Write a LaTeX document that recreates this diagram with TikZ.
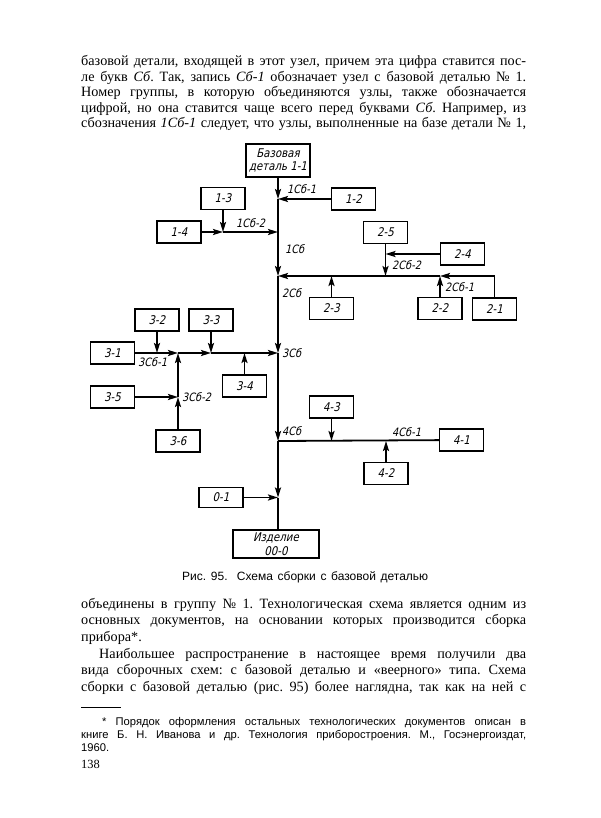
\documentclass[tikz,border=0pt]{standalone}
\usepackage{fontspec}
\setmainfont{Liberation Serif}
\newfontfamily\capfont{Liberation Sans}
\newfontfamily\draftfont[FakeSlant=0.22,FakeStretch=0.85]{DejaVu Sans}
\usetikzlibrary{arrows.meta}
\frenchspacing
\begin{document}
\begin{tikzpicture}[x=1pt,y=-1pt,
  box/.style={draw, line width=1.2pt, minimum width=44pt, minimum height=22pt, inner sep=0pt,
    font=\draftfont\fontsize{12}{13}\selectfont},
  lbl/.style={inner sep=0pt, anchor=west, font=\draftfont\fontsize{11.5}{13}\selectfont},
  ln/.style={line width=1.8pt},
  ar/.style={line width=1.8pt, -{Stealth[length=10pt,width=6pt,inset=2pt]}},
  body/.style={inner sep=0pt, anchor=base west, font=\fontsize{14.2}{16}\selectfont},
  foot/.style={inner sep=0pt, anchor=base west, font=\capfont\fontsize{11.2}{12}\selectfont},
]
\useasboundingbox[fill=white] (0,0) rectangle (600,818);

% ---------- text above ----------
\node[body] (t1) at (81,66) {\makebox[445pt][s]{базовой детали, входящей в этот узел, причем эта цифра ставится пос-}};
\node[body] (t2) at (81,81.5) {\makebox[445pt][s]{ле букв \textit{Сб}. Так, запись \textit{Сб-1} обозначает узел с базовой деталью №~1.}};
\node[body] (t3) at (81,97) {\makebox[445pt][s]{Номер группы, в которую объединяются узлы, также обозначается}};
\node[body] (t4) at (81,112.5) {\makebox[445pt][s]{цифрой, но она ставится чаще всего перед буквами \textit{Сб}. Например, из}};
\node[body] (t5) at (81,128) {\makebox[445pt][s]{сбозначения \textit{1Сб-1} следует, что узлы, выполненные на базе детали №~1,}};

% ---------- boxes ----------
\node[box, minimum width=64pt, minimum height=33pt, align=center, font=\draftfont\fontsize{12}{13.5}\selectfont] (base) at (278,160.5) {Базовая\\деталь 1-1};
\node[box] (b13) at (223,198.5) {1-3};
\node[box] (b14) at (179,232) {1-4};
\node[box] (b12) at (353.5,199) {1-2};
\node[box] (b25) at (385.5,232.5) {2-5};
\node[box] (b24) at (462.5,254) {2-4};
\node[box] (b23) at (331.5,308.5) {2-3};
\node[box] (b22) at (440,308.5) {2-2};
\node[box] (b21) at (494.5,309) {2-1};
\node[box] (b31) at (112.5,353) {3-1};
\node[box] (b32) at (157,320) {3-2};
\node[box] (b33) at (211,320) {3-3};
\node[box] (b34) at (244.5,386) {3-4};
\node[box] (b35) at (112.5,397) {3-5};
\node[box] (b36) at (178,441) {3-6};
\node[box] (b43) at (331.5,407) {4-3};
\node[box] (b41) at (461.5,440) {4-1};
\node[box] (b42) at (386,473.5) {4-2};
\node[box, minimum height=20pt] (b01) at (221,497.5) {0-1};
\node[box, minimum width=86pt, minimum height=28pt, align=center, font=\draftfont\fontsize{12}{13.5}\selectfont] (prod) at (276,544) {Изделие\\00-0};

% ---------- junctions ----------
\coordinate (J1) at (278,199);
\coordinate (J2) at (278,232);
\coordinate (J3) at (278,276);
\coordinate (J4) at (278,353);
\coordinate (J5) at (278,441);
\coordinate (J6) at (278,497.5);
\coordinate (K1) at (223,232);
\coordinate (K22) at (440,276);
\coordinate (K23) at (385.5,276);
\coordinate (K24) at (331.5,276);
\coordinate (K25) at (385.5,254);
\coordinate (K31) at (178,353);
\coordinate (K32) at (178,397);
\coordinate (K33) at (211,353);
\coordinate (K34) at (157,353);
\coordinate (K35) at (244.5,353);
\coordinate (K41) at (331.5,441);
\coordinate (K42) at (386,441);

% ---------- trunk ----------
\draw[ar] (base) -- (J1);
\draw[ln] (J1) -- (J2);
\draw[ar] (J2) -- (J3);
\draw[ar] (J3) -- (J4);
\draw[ar] (J4) -- (J5);
\draw[ar] (J5) -- (J6);
\draw[ln] (J6) -- (J6 |- prod.north);

% group 1
\draw[ar] (b12) -- (J1);
\draw[ar] (b13) -- (K1);
\draw[ar] (b14) -- (K1);
\draw[ar] (K1) -- (J2);
% group 2
\draw[ar] (b21.north) |- (K22);
\draw[ar] (b22) -- (K22);
\draw[ln] (K22) -- (K23);
\draw[ar] (b25) -- (K23);
\draw[ar] (b24) -- (K25);
\draw[ar] (K23) -- (J3);
\draw[ar] (b23) -- (K24);
% group 3
\draw[ar] (b31) -- (K31);
\draw[ar] (b32) -- (K34);
\draw[ar] (b35) -- (K32);
\draw[ar] (b36) -- (K32);
\draw[ar] (K32) -- (K31);
\draw[ar] (K31) -- (K33);
\draw[ar] (b33) -- (K33);
\draw[ar] (K33) -- (J4);
\draw[ar] (b34) -- (K35);
% group 4
\draw[ln] (b41) -- (J5);
\draw[ar] (b43) -- (K41);
\draw[ar] (b42) -- (K42);
% 0-1
\draw[ar] (b01) -- (J6);

% ---------- labels ----------
\node[lbl] (l1a) at (287,189) {1Сб-1};
\node[lbl] (l1b) at (236,223) {1Сб-2};
\node[lbl] (l1) at (285,249) {1Сб};
\node[lbl] (l2b) at (392,265) {2Сб-2};
\node[lbl] (l2a) at (445,287) {2Сб-1};
\node[lbl] (l2) at (282,293) {2Сб};
\node[lbl] (l3a) at (138,362) {3Сб-1};
\node[lbl] (l3b) at (182,397) {3Сб-2};
\node[lbl] (l3) at (282,353) {3Сб};
\node[lbl] (l4) at (282,431) {4Сб};
\node[lbl] (l4a) at (392,432) {4Сб-1};

% ---------- caption ----------
\node[inner sep=0pt, anchor=base west, font=\capfont\fontsize{12}{13}\selectfont] (cap) at (182,580) {\makebox[246pt][s]{Рис. 95. \ Схема сборки с базовой деталью}};

% ---------- text below ----------
\node[body] (u1) at (81,608) {\makebox[445pt][s]{объединены в группу №~1. Технологическая схема является одним из}};
\node[body] (u2) at (81,624.5) {\makebox[445pt][s]{основных документов, на основании которых производится сборка}};
\node[body] (u3) at (81,641) {прибора*.};
\node[body] (u4) at (99,658) {\makebox[427pt][s]{Наибольшее распространение в настоящее время получили два}};
\node[body] (u5) at (81,674.5) {\makebox[445pt][s]{вида сборочных схем: с базовой деталью и «веерного» типа. Схема}};
\node[body] (u6) at (81,691) {\makebox[445pt][s]{сборки с базовой деталью (рис. 95) более наглядна, так как на ней с}};
\coordinate (r1) at (81,707);
\coordinate (r2) at (121,707);
\draw[line width=0.6pt] (r1) -- (r2);
\node[foot] (f1) at (102,725) {\makebox[424pt][s]{* Порядок оформления остальных технологических документов описан в}};
\node[foot] (f2) at (81,738) {\makebox[445pt][s]{книге Б. Н. Иванова и др. Технология приборостроения. М., Госэнергоиздат,}};
\node[foot] (f3) at (81,751) {1960.};
\node[body, font=\fontsize{12.5}{14}\selectfont] (pg) at (81,768) {138};
\end{tikzpicture}
\end{document}
